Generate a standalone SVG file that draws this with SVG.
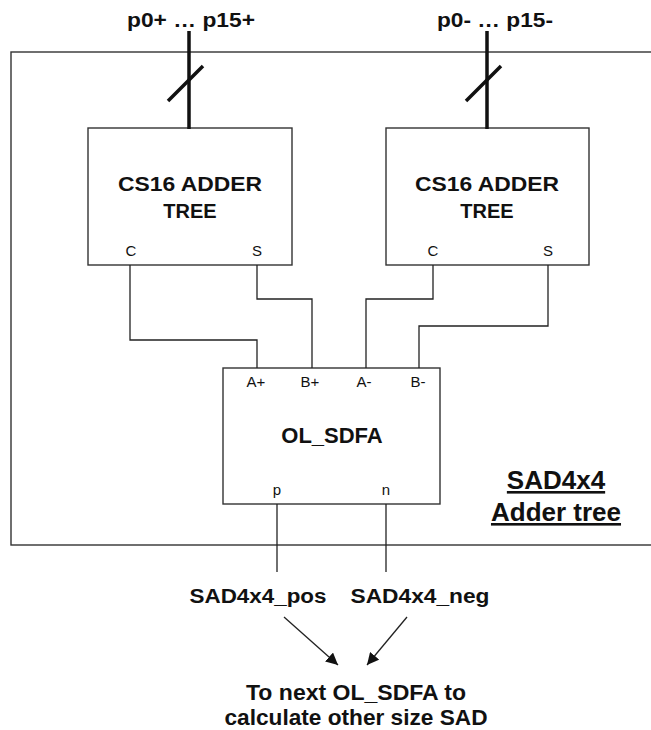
<svg xmlns="http://www.w3.org/2000/svg" width="651" height="730" viewBox="0 0 651 730">
<style>
.box{fill:none;stroke:#333;stroke-width:1.4}
.wire{fill:none;stroke:#222;stroke-width:1.3}
.bus{fill:none;stroke:#111;stroke-width:3.5}
.b{font-family:"Liberation Sans",Arial,sans-serif;font-weight:bold;fill:#111;text-anchor:middle}
.r{font-family:"Liberation Sans",Arial,sans-serif;fill:#111;text-anchor:middle;font-size:15px}
</style>
<defs>
<marker id="ah" viewBox="0 0 10 10" refX="10" refY="5" markerWidth="12" markerHeight="12" markerUnits="userSpaceOnUse" orient="auto">
<path d="M0,0 L10,5 L0,10 z" fill="#111"/>
</marker>
</defs>
<rect id="outer" x="11" y="52" width="700" height="493" class="box"/>
<g id="inputs">
<text class="b" x="191" y="27" font-size="20" textLength="128" lengthAdjust="spacingAndGlyphs">p0+ … p15+</text>
<text class="b" x="495" y="27" font-size="20" textLength="116" lengthAdjust="spacingAndGlyphs">p0- … p15-</text>
</g>
<g id="cs16-left">
<rect x="88" y="128" width="204" height="137" class="box"/>
<text class="b" x="190" y="191" font-size="20" textLength="144" lengthAdjust="spacingAndGlyphs">CS16 ADDER</text>
<text class="b" x="190" y="218" font-size="20">TREE</text>
<text class="r" x="131" y="256">C</text>
<text class="r" x="257" y="256">S</text>
</g>
<g id="cs16-right">
<rect x="386" y="128" width="203" height="137" class="box"/>
<text class="b" x="487" y="191" font-size="20" textLength="144" lengthAdjust="spacingAndGlyphs">CS16 ADDER</text>
<text class="b" x="487" y="218" font-size="20">TREE</text>
<text class="r" x="433" y="256">C</text>
<text class="r" x="548" y="256">S</text>
</g>
<g id="ol-sdfa">
<rect x="223" y="368" width="217" height="136" class="box"/>
<text class="r" x="256" y="387">A+</text>
<text class="r" x="310" y="387">B+</text>
<text class="r" x="364" y="387">A-</text>
<text class="r" x="418" y="387">B-</text>
<text class="b" x="332" y="443" font-size="22">OL_SDFA</text>
<text class="r" x="277" y="495">p</text>
<text class="r" x="386" y="495">n</text>
</g>
<g id="title">
<text class="b" x="556" y="489" font-size="26" text-decoration="underline">SAD4x4</text>
<text class="b" x="556" y="521" font-size="26" text-decoration="underline">Adder tree</text>
</g>
<g id="connectors">
<path class="bus" d="M189,31 V129 M487,31 V129"/>
<path class="bus" d="M168,101 L203,66 M466,101 L501,66"/>
<path class="wire" d="M130,265 V340 H257 V368"/>
<path class="wire" d="M257,265 V299 H312 V368"/>
<path class="wire" d="M433,265 V299 H366 V368"/>
<path class="wire" d="M548,265 V326 H419 V368"/>
<path class="wire" d="M277,504 V572"/>
<path class="wire" d="M386,504 V572"/>
<path class="wire" d="M284,617 L338,665" marker-end="url(#ah)"/>
<path class="wire" d="M407,617 L367,665" marker-end="url(#ah)"/>
</g>
<g id="outputs">
<text class="b" x="258" y="603" font-size="20" textLength="137" lengthAdjust="spacingAndGlyphs">SAD4x4_pos</text>
<text class="b" x="420" y="603" font-size="20" textLength="139" lengthAdjust="spacingAndGlyphs">SAD4x4_neg</text>
<text class="b" x="356" y="700" font-size="22" textLength="220" lengthAdjust="spacingAndGlyphs">To next OL_SDFA to</text>
<text class="b" x="356" y="725" font-size="22" textLength="263" lengthAdjust="spacingAndGlyphs">calculate other size SAD</text>
</g>
</svg>
